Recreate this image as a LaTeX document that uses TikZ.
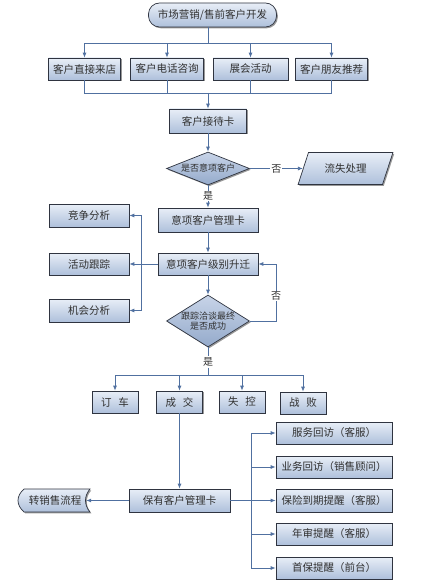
\documentclass[tikz,border=0pt]{standalone}
\usepackage{fontspec}
\newfontfamily\cjk{Noto Sans CJK SC}
\usetikzlibrary{shapes.geometric,arrows.meta,shadows,calc}
\definecolor{ln}{HTML}{5070A0}
\definecolor{bd}{HTML}{2F3440}
\definecolor{ft}{HTML}{E8EEF7}
\definecolor{fb}{HTML}{AEC0DB}
\definecolor{dt}{HTML}{C8D4E8}
\definecolor{db}{HTML}{94AACB}
\definecolor{txt}{HTML}{303030}
\begin{document}
\begin{tikzpicture}[x=1pt,y=-1pt,
  shd/.style={drop shadow={shadow xshift=1.3pt,shadow yshift=-1.3pt,fill=black,opacity=0.4}},
  box/.style={draw=bd,line width=0.7pt,top color=ft,bottom color=fb,inner sep=1pt,
    font=\cjk\fontsize{10.5}{12}\selectfont,text=txt,shd},
  dia/.style={diamond,draw=bd,line width=0.7pt,top color=dt,bottom color=db,inner sep=0pt,shd},
  dtext/.style={font=\cjk\fontsize{9}{10.5}\selectfont,text=txt,align=center,inner sep=0pt},
  lbl/.style={font=\cjk\fontsize{10}{11}\selectfont,text=txt,fill=white,inner sep=1pt},
  line/.style={draw=ln,line width=0.8pt},
  arr/.style={line,-{Latex[length=5pt,width=4pt]}}
]
\useasboundingbox (0,0) rectangle (434,583);

% top
\node[box,rounded corners=11pt,minimum width=128pt,minimum height=24pt] (top) at (212.5,15) {市场营销/售前客户开发};
\node[box,minimum width=72pt,minimum height=22pt] (b1) at (84.5,69) {客户直接来店};
\node[box,minimum width=73pt,minimum height=22pt] (b2) at (167,69) {客户电话咨询};
\node[box,minimum width=75pt,minimum height=22pt] (b3) at (250.5,69) {展会活动};
\node[box,minimum width=72pt,minimum height=22pt] (b4) at (331.5,69) {客户朋友推荐};
\coordinate (j1) at (208,43);
\coordinate (j2) at (208,93);
\draw[line] (top.south -| j1) -- (j1);
\foreach \b in {b1,b2,b3,b4} {
  \draw[arr] (j1) -| (\b.north);
  \draw[line] (\b.south) |- (j2);
}

\node[box,minimum width=77pt,minimum height=24pt] (card) at (208,121) {客户接待卡};
\draw[arr] (j2) -- (card.north);

\node[dia,minimum width=83pt,minimum height=33pt] (d1) at (208,168.5) {};
\node[dtext] (d1t) at (d1) {是否意项客户};
\draw[arr] (card.south) -- (d1.north);

\node[box,trapezium,trapezium left angle=62,trapezium right angle=118,trapezium stretches=true,
  minimum width=95pt,minimum height=32pt] (loss) at (345.5,168.5) {流失处理};
\draw[arr] (d1.east) -- node[lbl] (no1) {否} (loss.west);

\node[box,minimum width=100pt,minimum height=24pt] (m1) at (208,220) {意项客户管理卡};
\draw[arr] (d1.south) -- node[lbl,pos=0.48] (yes1) {是} (m1.north);

\node[box,minimum width=100pt,minimum height=22pt] (m2) at (208,264) {意项客户级别升迁};
\draw[arr] (m1.south) -- (m2.north);

\node[box,minimum width=80pt,minimum height=23pt] (a1) at (89,215.5) {竞争分析};
\node[box,minimum width=80pt,minimum height=22pt] (a2) at (89,264) {活动跟踪};
\node[box,minimum width=80pt,minimum height=23pt] (a3) at (89,310.5) {机会分析};
\coordinate (v1) at (141,264);
\draw[arr] (m2.west) -- (a2.east);
\draw[arr] (v1) |- (a1.east);
\draw[arr] (v1) |- (a3.east);

\node[dia,minimum width=83pt,minimum height=52pt] (d2) at (208,321) {};
\node[dtext] (d2t) at (d2) {跟踪洽谈最终\\是否成功};
\draw[arr] (m2.south) -- (d2.north);
\coordinate (r1) at (276,321);
\draw[arr] (d2.east) -- (r1) |- (m2.east);
\node[lbl] (no2) at (276,296) {否};

% outcomes
\coordinate (j3) at (208,375);
\node[lbl] (yes2) at (208,362) {是};
\draw[line] (d2.south) -- (yes2.north);
\draw[line] (yes2.south) -- (j3);
\node[box,minimum width=46pt,minimum height=22pt] (c1) at (115,402) {订\hspace{7pt}车};
\node[box,minimum width=46pt,minimum height=22pt] (c2) at (179.5,402) {成\hspace{7pt}交};
\node[box,minimum width=46pt,minimum height=22pt] (c3) at (242,402) {失\hspace{7pt}控};
\node[box,minimum width=46pt,minimum height=22pt] (c4) at (303,403) {战\hspace{7pt}败};
\draw[line] (j3) -- (j3 -| c1);
\draw[line] (j3) -- (j3 -| c4);
\foreach \c in {c1,c2,c3,c4} {
  \draw[arr] (j3 -| \c) -- (\c.north);
}

\node[box,minimum width=101pt,minimum height=23pt] (keep) at (179.5,500.5) {保有客户管理卡};
\draw[arr] (c2.south) -- (keep.north);

% stored data shape
\path[draw=bd,line width=0.7pt,top color=ft,bottom color=fb,shd]
  (24,489) -- (90,489) .. controls (84,496) and (84,505) .. (90,512)
  -- (24,512) .. controls (16,505) and (16,496) .. (24,489) -- cycle;
\node[font=\cjk\fontsize{10.5}{12}\selectfont,text=txt,minimum width=62pt,minimum height=23pt,inner sep=0pt] (zx) at (55,500.5) {转销售流程};
\draw[arr] (keep.west) -- (zx.east);

% service boxes
\node[box,minimum width=116pt,minimum height=22pt] (s1) at (334,433) {服务回访（客服）};
\node[box,minimum width=116pt,minimum height=22pt] (s2) at (334,467) {业务回访（销售顾问）};
\node[box,minimum width=116pt,minimum height=23pt] (s3) at (334,500.5) {保险到期提醒（客服）};
\node[box,minimum width=116pt,minimum height=22pt] (s4) at (334,534) {年审提醒（客服）};
\node[box,minimum width=116pt,minimum height=22pt] (s5) at (334,568) {首保提醒（前台）};
\coordinate (v2) at (251,500.5);
\draw[line] (keep.east) -- (v2);
\foreach \s in {s1,s2,s3,s4,s5} {
  \draw[arr] (v2) |- (\s.west);
}
\end{tikzpicture}
\end{document}
